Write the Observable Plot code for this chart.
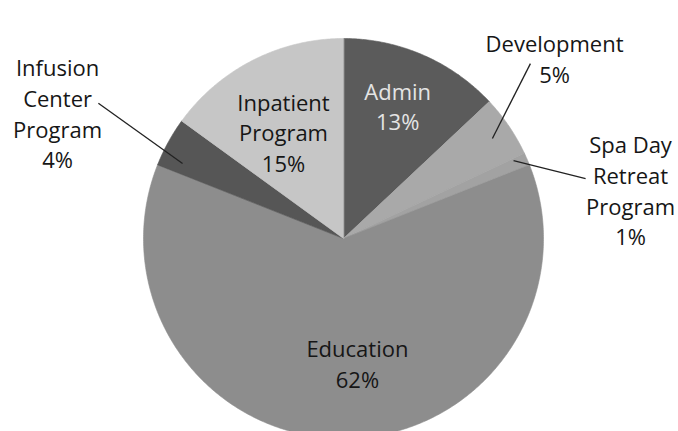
<!DOCTYPE html>
<html>
<head>
<meta charset="utf-8">
<script src="https://cdn.jsdelivr.net/npm/d3@7"></script>
<script src="https://cdn.jsdelivr.net/npm/@observablehq/plot@0.6"></script>
<style>
  html, body { margin: 0; padding: 0; background: #fff; overflow: hidden; }
  #chart svg { display: block; }
</style>
</head>
<body>
<div id="chart"></div>
<script>
// ---- data ----
const categories = ["Admin", "Development", "Spa Day Retreat Program", "Education", "Infusion Center Program", "Inpatient Program"];
const shares = [13, 5, 1, 62, 4, 15];
const labelLines = [["Admin"], ["Development"], ["Spa Day", "Retreat", "Program"], ["Education"], ["Infusion", "Center", "Program"], ["Inpatient", "Program"]];

// ---- style / layout ----
const sliceColors = ["#5b5b5b", "#a9a9a9", "#a2a2a2", "#8d8d8d", "#565656", "#c6c6c6"];
const labelColors = ["#e4e4e4", "#161616", "#161616", "#161616", "#161616", "#161616"];
// label anchor in polar terms (degrees clockwise from 12 o'clock, radius in pie radii)
const labelAngle = [22.1, 49.4, 80.3, 173.6, 293.8, 330.7];
const labelRadius = [0.72, 1.39, 1.456, 0.624, 1.5625, 0.613];
// leader lines (only for outside labels)
const leaders = [
  {i: 1, a0: 56.1, r0: 0.897, a1: 46.9, r1: 1.28},
  {i: 2, a0: 65.4, r0: 0.935, a1: 76.1, r1: 1.247},
  {i: 4, a0: 295.0, r0: 0.888, a1: 298.9, r1: 1.40}
];

const total = d3.sum(shares);
const polar = (deg, r) => {
  const t = deg * Math.PI / 180;
  return [r * Math.sin(t), r * Math.cos(t)];
};

// slice outlines computed from the shares
const slicePts = [];
let acc = 0;
shares.forEach((v, i) => {
  const a0 = acc / total * 360;
  const a1 = (acc + v) / total * 360;
  acc += v;
  slicePts.push({slice: i, x: 0, y: 0, color: sliceColors[i]});
  const n = Math.max(2, Math.ceil((a1 - a0) / 0.5));
  for (let k = 0; k <= n; k++) {
    const [x, y] = polar(a0 + (a1 - a0) * k / n, 1);
    slicePts.push({slice: i, x, y, color: sliceColors[i]});
  }
});

const labels = categories.map((c, i) => {
  const [x, y] = polar(labelAngle[i], labelRadius[i]);
  return {x, y, text: labelLines[i].concat([shares[i] + "%"]).join("\n"), color: labelColors[i]};
});

const leaderSegs = leaders.map(l => {
  const [x1, y1] = polar(l.a0, l.r0);
  const [x2, y2] = polar(l.a1, l.r1);
  return {x1, y1, x2, y2};
});

const chart = Plot.plot({
  width: 678,
  height: 431,
  marginLeft: 143,
  marginRight: 135,
  marginTop: 38,
  marginBottom: 0,
  x: {domain: [-1, 1], axis: null},
  y: {domain: [-0.965, 1], axis: null},
  color: {type: "identity"},
  style: {background: "#fff", overflow: "hidden"},
  marks: [
    Plot.line(slicePts, {x: "x", y: "y", z: "slice", fill: "color", stroke: "color", strokeWidth: 0.6, curve: "linear-closed"}),
    Plot.link(leaderSegs, {x1: "x1", y1: "y1", x2: "x2", y2: "y2", stroke: "#222", strokeWidth: 1.3}),
    Plot.text(labels, {x: "x", y: "y", text: "text", fill: "color", fontSize: 22, fontFamily: "'Open Sans', sans-serif", lineHeight: 1.4, textAnchor: "middle"})
  ]
});
document.getElementById("chart").appendChild(chart);
</script>
</body>
</html>
